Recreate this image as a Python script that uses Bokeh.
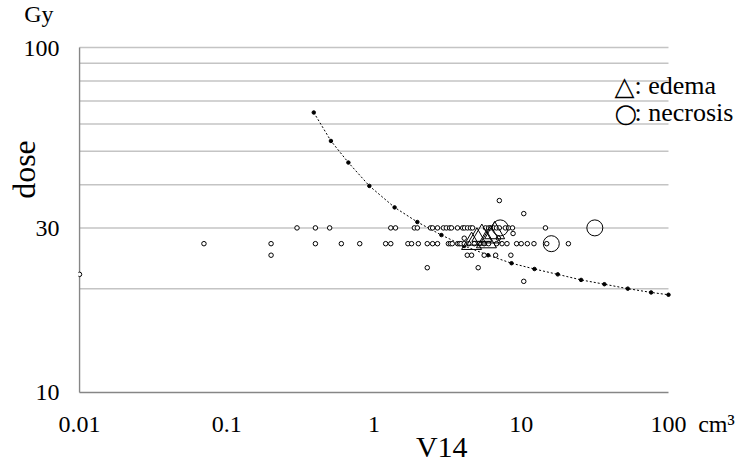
from bokeh.plotting import figure
from bokeh.models import Range1d, FixedTicker, Label
from bokeh.embed import file_html
from bokeh.resources import INLINE

# ---- data ----
curve_x = [0.39, 0.51, 0.67, 0.93, 1.38, 1.97, 2.87, 4.1, 5.96, 8.59, 12.3, 17.7, 25.5, 36.7, 52.9, 76.2, 100]
curve_y = [64.8, 53.6, 46.4, 39.7, 34.4, 31.2, 28.6, 26.6, 25.0, 23.7, 22.8, 22.0, 21.2, 20.6, 20.0, 19.5, 19.2]

row30_x = [0.3, 0.4, 0.5, 1.3, 1.4, 1.88, 1.97, 2.42, 2.5, 2.7, 2.96, 3.1, 3.26, 3.36, 3.69, 4.0, 4.12,
           4.32, 4.52, 4.67, 5.72, 6.0, 6.18, 6.48, 6.79, 7.1, 7.8, 8.2, 8.72, 14.6]
row27_x = [0.07, 0.2, 0.4, 0.6, 0.8, 1.2, 1.3, 1.7, 1.8, 2.0, 2.3, 2.5, 2.7, 3.2, 3.3, 3.4, 3.7, 3.8, 3.9,
           4.1, 4.4, 4.8, 5.2, 5.6, 6.0, 6.8, 7.4, 8.0, 9.3, 10.0, 11.0, 12.2, 14.9, 20.9]
row25_x = [0.2, 4.3, 4.6, 5.6, 6.7, 8.5]
other_x = [0.01, 2.3, 5.1, 10.4, 7.1, 10.4, 4.1, 7.0, 8.8]
other_y = [22, 23, 23, 21, 36, 33, 28, 28, 28.9]

edema_x = [4.6, 5.0, 5.4, 5.8, 6.2, 6.6]
edema_y = [27.0, 27.8, 28.5, 27.3, 28.2, 29.0]
necrosis_x = [7.2, 16.0, 31.6]
necrosis_y = [30, 27, 30]

y_ticks = [10, 30, 100]
y_tick_labels = ["10", "30", "100"]
x_ticks = [0.01, 0.1, 1, 10, 100]
x_tick_labels = ["0.01", "0.1", "1", "10", "100"]
grid_levels = [20, 30, 40, 50, 60, 70, 80, 90, 100]

# unit texts sit in the tick-label rows
x_unit_pos, x_unit = 211.8, "cm\u00b3"
y_unit_pos, y_unit = 126.3, "Gy\u00a0"

legend_symbols = ["\u25b3", "\u25cb"]
legend_texts = [": edema", ": necrosis"]
legend_sym_x = [42.98, 42.98]
legend_txt_x = [58.76, 58.76]
legend_y = [77.6, 64.8]

small_x = row30_x + row27_x + row25_x + other_x
small_y = [30] * len(row30_x) + [27] * len(row27_x) + [25] * len(row25_x) + other_y

FONT = "Liberation Serif"
NB = "\u00a0"

p = figure(width=737, height=473, frame_width=659, frame_height=394,
           x_axis_type="log", y_axis_type="log",
           x_range=Range1d(0.009845, 294.2), y_range=Range1d(9.8674, 136.85),
           output_backend="svg", toolbar_location=None,
           min_border_left=78, min_border_right=0, min_border_top=0, min_border_bottom=79)
p.outline_line_color = None
p.background_fill_color = "white"
p.border_fill_color = "white"
p.xgrid.grid_line_color = None
p.ygrid.grid_line_color = None

p.xaxis.ticker = FixedTicker(ticks=x_ticks + [x_unit_pos], minor_ticks=[])
p.yaxis.ticker = FixedTicker(ticks=y_ticks + [y_unit_pos], minor_ticks=[])
xo = {t: l for t, l in zip(x_ticks, x_tick_labels)}
xo[x_unit_pos] = x_unit
yo = {t: l for t, l in zip(y_ticks, y_tick_labels)}
yo[y_unit_pos] = y_unit
p.xaxis.major_label_overrides = xo
p.yaxis.major_label_overrides = yo
for ax in (p.xaxis, p.yaxis):
    ax.major_tick_in = 0
    ax.major_tick_out = 0
    ax.minor_tick_in = 0
    ax.minor_tick_out = 0
    ax.axis_line_color = None
    ax.major_label_text_font = FONT
    ax.major_label_text_font_size = "24px"
    ax.major_label_text_color = "black"
    ax.axis_label_text_font = FONT
    ax.axis_label_text_font_style = "normal"
    ax.axis_label_text_color = "black"
p.yaxis.major_label_standoff = 19
p.xaxis.major_label_standoff = 16
p.xaxis.axis_label = NB * 9 + "V14"
p.xaxis.axis_label_text_font_size = "30px"
p.xaxis.axis_label_standoff = -10
p.yaxis.axis_label = NB * 7 + "dose"
p.yaxis.axis_label_text_font_size = "32px"
p.yaxis.axis_label_standoff = -21

# gridlines and axis lines over the plotting area
x0, x1 = x_ticks[0], x_ticks[-1]
y0, y1 = y_ticks[0], y_ticks[-1]
p.segment(x0=[x0] * len(grid_levels), x1=[x1] * len(grid_levels), y0=grid_levels, y1=grid_levels,
          line_color="#c4c4c4", line_width=1.5)
p.segment(x0=[x0, x0], x1=[x1, x0], y0=[y0, y0], y1=[y0, y1], line_color="#868686", line_width=1.5)

# curve
p.line(curve_x, curve_y, line_color="black", line_width=1, line_dash="2 2")
p.scatter(curve_x, curve_y, size=3.5, marker="circle", fill_color="black", line_color="black")

# data points
p.scatter(small_x, small_y, size=4.5, marker="circle", fill_color="white", line_color="black", line_width=1)
p.scatter(edema_x, edema_y, size=20, marker="triangle", fill_color=None, line_color="black", line_width=1)
p.scatter(necrosis_x, necrosis_y, size=16, marker="circle", fill_color=None, line_color="black", line_width=1)

# legend: symbol + text
for s, sx, t, tx, ly in zip(legend_symbols, legend_sym_x, legend_texts, legend_txt_x, legend_y):
    p.add_layout(Label(x=sx, y=ly, text=s, text_font="DejaVu Sans", text_font_size="26px",
                       text_align="left", text_baseline="alphabetic", text_color="black"))
    p.add_layout(Label(x=tx, y=ly, text=t, text_font=FONT, text_font_size="26px",
                       text_align="left", text_baseline="alphabetic", text_color="black"))

open("out.html", "w").write(file_html(p, INLINE))
